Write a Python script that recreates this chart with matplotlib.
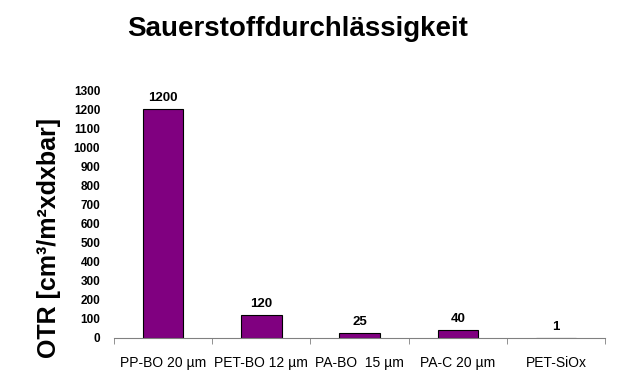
import matplotlib.pyplot as plt

plt.rcParams['font.family'] = ['Liberation Sans', 'DejaVu Sans']

categories = ['PP-BO 20 µm', 'PET-BO 12 µm', 'PA-BO  15 µm', 'PA-C 20 µm', 'PET-SiOx']
otr = [1200, 120, 25, 40, 1]
yticks = list(range(0, 1400, 100))

fig = plt.figure(figsize=(6.27, 3.87), dpi=100)
ax = fig.add_axes([0.182, 0.127, 0.783, 0.64])

x = list(range(len(categories)))
bars = ax.bar(x, otr, width=0.41, color='#800080', edgecolor='black', linewidth=0.8)
for xi, v in zip(x, otr):
    ax.text(xi, v + 25, str(v), ha='center', va='bottom', fontsize=9.5, fontweight='bold')

ax.set_xlim(-0.5, len(categories) - 0.5)
ax.set_ylim(0, 1300)
ax.set_yticks(yticks)
ax.set_yticklabels([str(t) for t in yticks], fontsize=8.5, fontweight='bold')
ax.tick_params(axis='y', length=0, pad=10)

ax.set_xticks(x)
ax.set_xticklabels(categories, fontsize=10)
ax.set_xticks([i - 0.5 for i in range(len(categories) + 1)], minor=True)
ax.tick_params(axis='x', which='major', length=0, pad=13)
ax.tick_params(axis='x', which='minor', length=4, direction='out', color='gray')

for s in ['top', 'right', 'left']:
    ax.spines[s].set_visible(False)
ax.spines['bottom'].set_color('gray')

fig.text(49 / 627, 1 - 238 / 387, 'OTR [cm³/m²xdxbar]', rotation=90, ha='center', va='center',
         fontsize=18, fontweight='bold')
fig.text(0.475, 0.925, 'Sauerstoffdurchlässigkeit', ha='center', va='center', fontsize=20, fontweight='bold')

plt.savefig('out.png')
